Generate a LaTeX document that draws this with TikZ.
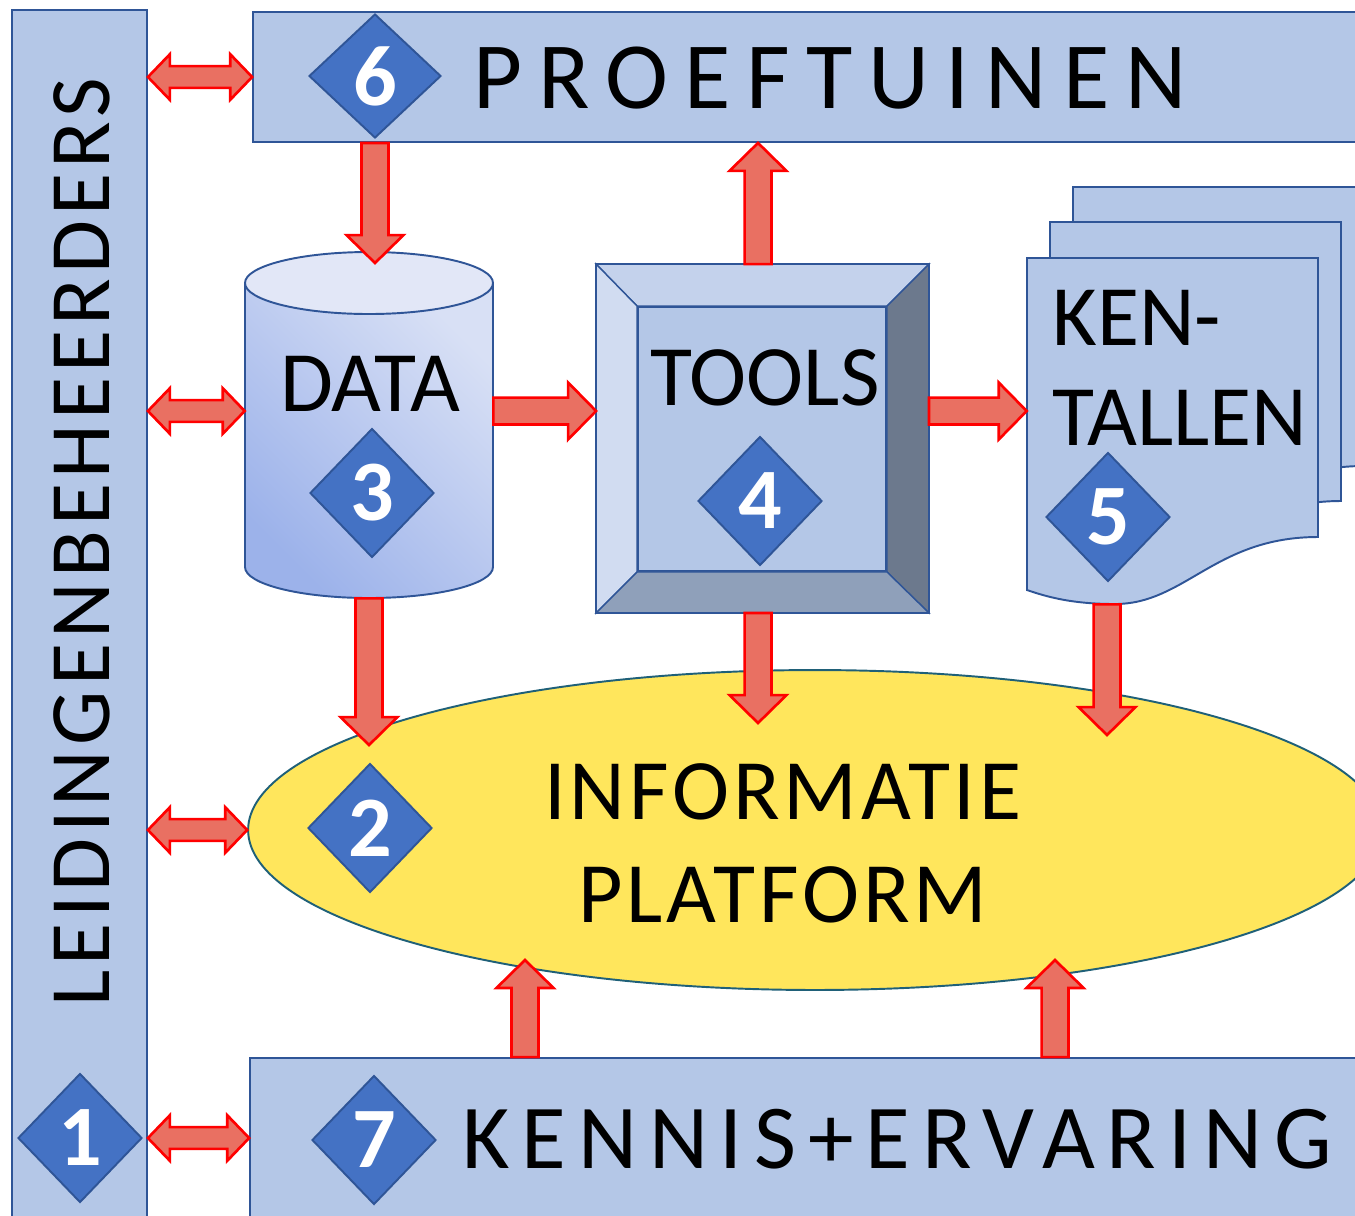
\documentclass[tikz,border=0pt]{standalone}
\usepackage{fontspec}
\setmainfont{Carlito}
\usetikzlibrary{shapes.geometric, calc}
\definecolor{panelFill}{HTML}{B4C7E7}
\definecolor{panelLine}{HTML}{2F5597}
\definecolor{badgeFill}{HTML}{4472C4}
\definecolor{arrowFill}{HTML}{E97062}
\definecolor{arrowLine}{HTML}{FF0000}
\definecolor{platformFill}{HTML}{FFE65C}
\definecolor{platformLine}{HTML}{1F6078}
\definecolor{bevelTop}{HTML}{C4D2EC}
\definecolor{bevelLeft}{HTML}{D1DCF1}
\definecolor{bevelRight}{HTML}{6C798D}
\definecolor{bevelBottom}{HTML}{8FA0BA}
\definecolor{cylDark}{HTML}{9CB2EA}
\definecolor{cylLight}{HTML}{D8E0F5}
\definecolor{cylTop}{HTML}{E2E7F7}

% block arrow from #1 to #2
\newcommand\oneArrow[2]{%
  \path[arrowStyle] let \p1=(#1), \p2=(#2),
      \n1={atan2(\y2-\y1,\x2-\x1)}, \n2={veclen(\x2-\x1,\y2-\y1)} in
    [shift={(\p1)}, rotate=\n1]
    (0pt,7.65pt) -- ({\n2*1pt-15.9pt},7.65pt) -- ({\n2*1pt-15.9pt},16.2pt)
    -- ({\n2*1pt},0pt) -- ({\n2*1pt-15.9pt},-16.2pt) -- ({\n2*1pt-15.9pt},-7.65pt)
    -- (0pt,-7.65pt) -- cycle;}
% block arrow with a head at both ends
\newcommand\twoArrow[2]{%
  \path[arrowStyle] let \p1=(#1), \p2=(#2),
      \n1={atan2(\y2-\y1,\x2-\x1)}, \n2={veclen(\x2-\x1,\y2-\y1)} in
    [shift={(\p1)}, rotate=\n1]
    (0pt,0pt) -- (12.5pt,13pt) -- (12.5pt,6.2pt) -- ({\n2*1pt-12.5pt},6.2pt)
    -- ({\n2*1pt-12.5pt},13pt) -- ({\n2*1pt},0pt) -- ({\n2*1pt-12.5pt},-13pt)
    -- ({\n2*1pt-12.5pt},-6.2pt) -- (12.5pt,-6.2pt) -- (12.5pt,-13pt) -- cycle;}
% one page of the stack
\newcommand\docPage[1]{%
  \draw[docStyle, shift={#1}] (1027,258) -- (1318,258) -- (1318,537)
    .. controls (1215,537) and (1185,604) .. (1115,604)
    .. controls (1075,604) and (1050,598) .. (1027,590) -- cycle;}

\begin{document}
\begin{tikzpicture}[x=0.02cm, y=-0.02cm,
  panel/.style={draw=panelLine, fill=panelFill, line width=1.1pt, inner sep=0pt},
  frameBox/.style={inner sep=0pt},
  badge/.style={diamond, draw=panelLine, fill=badgeFill, line width=1.1pt, inner sep=0pt,
    minimum width=2.48cm, minimum height=2.58cm, text=white,
    font=\fontsize{49pt}{55pt}\selectfont\bfseries},
  bigText/.style={inner sep=0pt, font=\fontsize{49pt}{57pt}\selectfont},
  arrowStyle/.style={draw=arrowLine, fill=arrowFill, line width=1.5pt},
  bevel/.style={draw=panelLine, line width=0.8pt},
  docStyle/.style={draw=panelLine, fill=panelFill, line width=1.1pt},
  platform/.style={ellipse, draw=platformLine, fill=platformFill, line width=1.1pt, inner sep=0pt}
]
\useasboundingbox (0,0) rectangle (1355,1215);
\clip (0,0) rectangle (1355,1215);

\node [panel, minimum width=2.7cm, minimum height=24.4cm] (leiding) at (79.5,620) {};
\node [bigText, rotate=90, font=\fontsize{49pt}{57pt}\selectfont\addfontfeature{LetterSpace=6}] (leidText) at (82,542) {LEIDINGENBEHEERDERS};
\node [badge] (d1) at (80,1138) {1};

\node [panel, minimum width=22.54cm, minimum height=2.6cm] (proef) at (816.5,77) {};
\node [badge, minimum width=2.64cm, minimum height=2.48cm] (d6) at (375,76) {6};
\node [bigText, anchor=west, font=\fontsize{54pt}{60pt}\selectfont\addfontfeature{LetterSpace=17}] (proefText) at (473,78) {PROEFTUINEN};

\node [panel, minimum width=22.6cm, minimum height=3.44cm] (kennis) at (815,1144) {};
\node [badge] (d7) at (374,1140) {7};
\node [bigText, anchor=west, font=\fontsize{52pt}{60pt}\selectfont\addfontfeature{LetterSpace=13}] (kennisText) at (462,1139) {KENNIS+ERVARING};

\node [platform, minimum width=22.68cm, minimum height=6.4cm] (info) at (815,830) {};
\node [badge] (d2) at (370,828) {2};
\node [bigText, align=center, font=\fontsize{49pt}{58.5pt}\selectfont\addfontfeature{LetterSpace=4.5}] (infoText) at (783,843) {INFORMATIE\\PLATFORM};

\node [frameBox, minimum width=4.96cm, minimum height=6.92cm] (data) at (369,425) {};
\shade [top color=cylLight, bottom color=cylDark, shading angle=-45] (245,283) -- (245,567) arc [start angle=180, end angle=0, x radius=124, y radius=31] -- (493,283) -- cycle;
\draw [draw=panelLine, line width=1.1pt] (245,283) -- (245,567) arc [start angle=180, end angle=0, x radius=124, y radius=31] -- (493,283);
\draw [draw=panelLine, fill=cylTop, line width=1.1pt] (369,283) ellipse [x radius=124, y radius=31];
\node [bigText] (dataText) at (370,384) {DATA};
\node [badge] (d3) at (372,493) {3};

\node [panel, minimum width=6.62cm, minimum height=6.94cm] (tools) at (762.5,438.5) {};
\node [panel, minimum width=4.96cm, minimum height=5.28cm] (toolsCore) at (762,439) {};
\draw [bevel, fill=bevelTop] (tools.north west) -- (tools.north east) -- (toolsCore.north east) -- (toolsCore.north west) -- cycle;
\draw [bevel, fill=bevelLeft] (tools.north west) -- (toolsCore.north west) -- (toolsCore.south west) -- (tools.south west) -- cycle;
\draw [bevel, fill=bevelRight] (tools.north east) -- (toolsCore.north east) -- (toolsCore.south east) -- (tools.south east) -- cycle;
\draw [bevel, fill=bevelBottom] (tools.south west) -- (toolsCore.south west) -- (toolsCore.south east) -- (tools.south east) -- cycle;
\draw [draw=panelLine, line width=1.1pt] (tools.north west) rectangle (tools.south east);
\node [bigText] (toolsText) at (765,378) {TOOLS};
\node [badge] (d4) at (760,501) {4};

\docPage{(46,-71)}
\docPage{(23,-36)}
\docPage{(0,0)}
\node [frameBox, minimum width=5.82cm, minimum height=6.92cm] (kental) at (1172.5,431) {};
\node [bigText, anchor=north west, align=left, font=\fontsize{49pt}{57pt}\selectfont] (kentalText) at (1052,290) {KEN-\\TALLEN};
\node [badge] (d5) at (1108,517) {5};

\coordinate (midRow) at (0,411);
\coordinate (tipCyl) at (375,263);
\coordinate (tipData) at (369,745);
\coordinate (tipTools) at (758,723);
\coordinate (tipKental) at (1107,735);
\coordinate (tipLeft) at (525,960);
\coordinate (tipRight) at (1055,960);

\twoArrow{leiding.east |- proef}{proef.west}
\twoArrow{leiding.east |- midRow}{data.west |- midRow}
\twoArrow{leiding.east |- info.west}{info.west}
\twoArrow{leiding.east |- d1}{kennis.west |- d1}
\oneArrow{proef.south -| tipCyl}{tipCyl}
\oneArrow{data.south}{tipData}
\oneArrow{data.east |- midRow}{tools.west |- midRow}
\oneArrow{tools.north -| tipTools}{proef.south -| tipTools}
\oneArrow{tools.east |- midRow}{kental.west |- midRow}
\oneArrow{tools.south -| tipTools}{tipTools}
\oneArrow{kental.south -| tipKental}{tipKental}
\oneArrow{kennis.north -| tipLeft}{tipLeft}
\oneArrow{kennis.north -| tipRight}{tipRight}
\end{tikzpicture}
\end{document}
